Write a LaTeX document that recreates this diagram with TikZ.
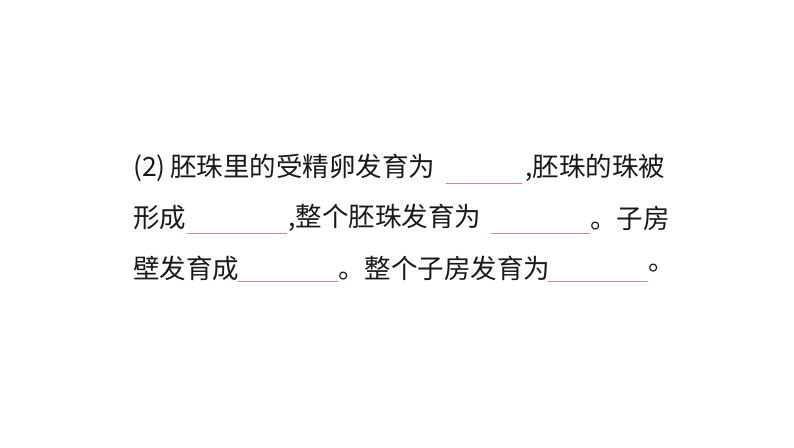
\documentclass[tikz,border=0pt]{standalone}
\usepackage{fontspec}
\setmainfont{Noto Sans CJK SC}
\definecolor{blankpink}{RGB}{215,130,170}
\tikzset{txt/.style={anchor=west,inner sep=0pt,font=\fontsize{26.5}{30}\selectfont,text=black!90},
 blank/.style={blankpink,line width=0.9pt}}
\begin{document}
\begin{tikzpicture}[x=1pt,y=-1pt]
\useasboundingbox (0,0) rectangle (794,447);
% line 1
\node[txt] (a1) at (133,168) {(2)\,胚珠里的受精卵发育为};
\coordinate (b1s) at (446,183); \coordinate (b1e) at (522,183);
\draw[blank] (b1s) -- (b1e);
\node[txt] (a2) at (525,168) {,胚珠的珠被};
% line 2
\node[txt] (c1) at (133,218) {形成};
\coordinate (b2s) at (187,233); \coordinate (b2e) at (287,233);
\draw[blank] (b2s) -- (b2e);
\node[txt] (c2) at (288,218) {,整个胚珠发育为};
\coordinate (b3s) at (491,233); \coordinate (b3e) at (590,233);
\draw[blank] (b3s) -- (b3e);
\node[txt] (c3) at (590,218) {。子房};
% line 3
\node[txt] (d1) at (133,268) {壁发育成};
\coordinate (b4s) at (238,281); \coordinate (b4e) at (338,281);
\draw[blank] (b4s) -- (b4e);
\node[txt] (d2) at (338,268) {。整个子房发育为};
\coordinate (b5s) at (548,281); \coordinate (b5e) at (648,281);
\draw[blank] (b5s) -- (b5e);
\node[txt] (d3) at (648,268) {。};
\end{tikzpicture}
\end{document}
